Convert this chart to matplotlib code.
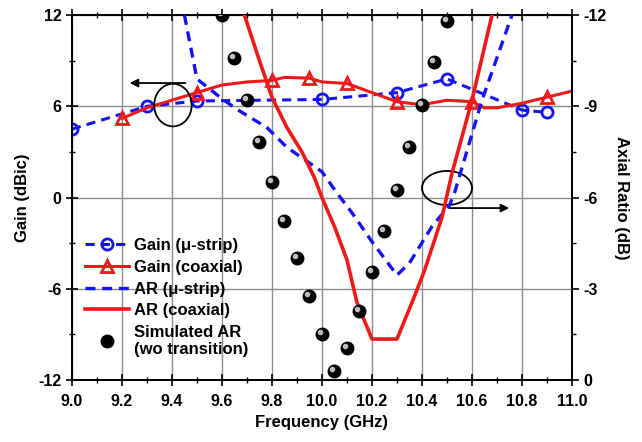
import matplotlib.pyplot as plt
import matplotlib.transforms as mtransforms
from matplotlib.patches import Ellipse
from matplotlib.lines import Line2D

plt.rcParams['font.family'] = ['Liberation Sans', 'DejaVu Sans']
plt.rcParams['font.weight'] = 'bold'
plt.rcParams['axes.unicode_minus'] = False

# Gain (dBic), left axis
gain_ustrip_f = [9.0, 9.3, 9.5, 10.0, 10.3, 10.5, 10.8, 10.9]
gain_ustrip = [4.5, 6.0, 6.35, 6.45, 6.9, 7.8, 5.75, 5.6]

gain_coax_f = [9.2, 9.3, 9.4, 9.5, 9.6, 9.7, 9.8, 9.85, 9.95, 10.0, 10.1,
               10.2, 10.3, 10.4, 10.5, 10.6, 10.65, 10.7, 10.8, 10.9, 11.0]
gain_coax = [5.2, 5.9, 6.4, 6.9, 7.4, 7.6, 7.7, 7.9, 7.85, 7.6, 7.5,
             6.9, 6.3, 6.1, 6.4, 6.3, 5.9, 5.9, 6.2, 6.6, 7.0]
gain_coax_marked = [0, 3, 6, 8, 10, 12, 15, 19]

# Axial ratio (dB), right axis
ar_ustrip_f = [9.45, 9.5, 9.6, 9.66, 9.78, 9.86, 9.93, 10.0, 10.06, 10.12,
               10.2, 10.3, 10.35, 10.44, 10.51, 10.53, 10.64, 10.76]
ar_ustrip = [-12.0, -9.9, -9.25, -8.9, -8.3, -7.65, -7.25, -6.85, -6.15, -5.5,
             -4.55, -3.45, -3.85, -5.05, -5.75, -6.15, -9.2, -12.0]

ar_coax_f = [9.69, 9.75, 9.8, 9.86, 9.92, 9.97, 10.0, 10.05, 10.1, 10.14,
             10.2, 10.3, 10.36, 10.41, 10.48, 10.52, 10.6, 10.68]
ar_coax = [-12.0, -10.5, -9.3, -8.3, -7.5, -6.65, -6.0, -5.05, -3.95, -2.55,
           -1.35, -1.35, -2.55, -3.6, -5.35, -6.8, -9.2, -12.0]

sim_f = [9.6, 9.65, 9.7, 9.75, 9.8, 9.85, 9.9, 9.95, 10.0, 10.05,
         10.1, 10.15, 10.2, 10.25, 10.3, 10.35, 10.4, 10.45, 10.5]
sim_ar = [-12.0, -10.6, -9.2, -7.83, -6.5, -5.23, -4.0, -2.75, -1.5, -0.3,
          -1.05, -2.28, -3.55, -4.9, -6.25, -7.65, -9.05, -10.45, -11.8]

blue = '#1414f0'
red = '#f01818'

fig = plt.figure(figsize=(6.42, 4.42), dpi=100)
ax = fig.add_axes([0.112, 0.140, 0.779, 0.826])
ax2 = ax.twinx()

ax.set_xlim(9.0, 11.0)
ax.set_ylim(-12, 12)
ax2.set_ylim(0, -12)

ax.set_xticks([9.0 + 0.2 * i for i in range(11)])
ax.set_xticks([9.1 + 0.2 * i for i in range(10)], minor=True)
ax.set_yticks([-12, -6, 0, 6, 12])
ax.set_yticks([-9, -3, 3, 9], minor=True)
ax2.set_yticks([0, -3, -6, -9, -12])
ax2.set_yticks([-1.5, -4.5, -7.5, -10.5], minor=True)
ax.xaxis.set_major_formatter(plt.FormatStrFormatter('%.1f'))

ax.grid(True, which='major', color='#8c8c8c', linewidth=1.0)
ax.set_axisbelow(True)

ax.tick_params(axis='x', which='both', direction='inout', top=True, labelsize=11.5, pad=6)
ax.tick_params(axis='x', which='major', length=8, width=1.2)
ax.tick_params(axis='x', which='minor', length=5, width=1.0)
ax.tick_params(axis='y', which='both', direction='inout', right=False, labelsize=11.5)
ax.tick_params(axis='y', which='major', length=8, width=1.2)
ax.tick_params(axis='y', which='minor', length=5, width=1.0)
ax2.tick_params(axis='y', which='both', direction='out', labelsize=11.5)
ax2.tick_params(axis='y', which='major', length=5, width=1.2)
ax2.tick_params(axis='y', which='minor', length=3, width=1.0)
for a in (ax, ax2):
    for s in a.spines.values():
        s.set_linewidth(1.3)

# gain curves
ax.plot(gain_ustrip_f, gain_ustrip, color=blue, linestyle=(0, (3, 2)), linewidth=2.2,
        marker='o', markersize=8, markerfacecolor='none', markeredgewidth=2, zorder=4)
ax.plot(gain_coax_f, gain_coax, color=red, linewidth=2.2, marker='^', markersize=9,
        markevery=gain_coax_marked, markerfacecolor='none', markeredgewidth=2, zorder=4)

# AR curves
ax2.plot(ar_ustrip_f, ar_ustrip, color=blue, linestyle=(0, (3, 2)), linewidth=2.4, zorder=3)
ax2.plot(ar_coax_f, ar_coax, color=red, linewidth=2.6, zorder=3)
ax2.plot(sim_f, sim_ar, linestyle='none', marker='o', markersize=9, color='black', zorder=5)
hl = mtransforms.offset_copy(ax2.transData, fig=fig, x=-1.5, y=1.5, units='points')
ax2.plot(sim_f, sim_ar, linestyle='none', marker='o', markersize=3, color='#bdbdbd',
         transform=hl, zorder=6)

# annotations
ax.add_patch(Ellipse((9.404, 6.08), 0.15, 2.8, fill=False, edgecolor='black', lw=1.3, zorder=6))
ax.annotate('', xy=(9.22, 7.53), xytext=(9.465, 7.53),
            arrowprops=dict(arrowstyle='-|>', color='black', lw=1.3, mutation_scale=12), zorder=6)
ax.add_patch(Ellipse((10.5, 0.63), 0.2, 2.24, fill=False, edgecolor='black', lw=1.3, zorder=6))
ax.annotate('', xy=(10.76, -0.69), xytext=(10.5, -0.69),
            arrowprops=dict(arrowstyle='-|>', color='black', lw=1.3, mutation_scale=12), zorder=6)

ax.set_xlabel('Frequency (GHz)', fontsize=12, fontweight='bold', labelpad=4)
ax.set_ylabel('Gain (dBic)', fontsize=12, fontweight='bold', labelpad=6)
ax2.set_ylabel('Axial Ratio (dB)', fontsize=12, fontweight='bold', rotation=270, labelpad=16)

handles = [
    Line2D([], [], color=blue, linestyle=(0, (3, 2)), lw=2.2, marker='o', markersize=8,
           markerfacecolor='none', markeredgewidth=2),
    Line2D([], [], color=red, lw=2.2, marker='^', markersize=9,
           markerfacecolor='none', markeredgewidth=2),
    Line2D([], [], color=blue, linestyle=(0, (3, 2)), lw=2.4),
    Line2D([], [], color=red, lw=2.6),
    Line2D([], [], linestyle='none', marker='o', markersize=9, color='black'),
]
labels = ['Gain (\u03bc-strip)', 'Gain (coaxial)', 'AR (\u03bc-strip)', 'AR (coaxial)',
          'Simulated AR\n(wo transition)']
ax2.legend(handles, labels, loc='upper left', bbox_to_anchor=(0.0, 0.425), frameon=False,
           prop={'weight': 'bold', 'size': 12}, handlelength=2.6, handletextpad=0.3,
           labelspacing=0.4, borderpad=0.3)

fig.savefig('out.png', dpi=100)
